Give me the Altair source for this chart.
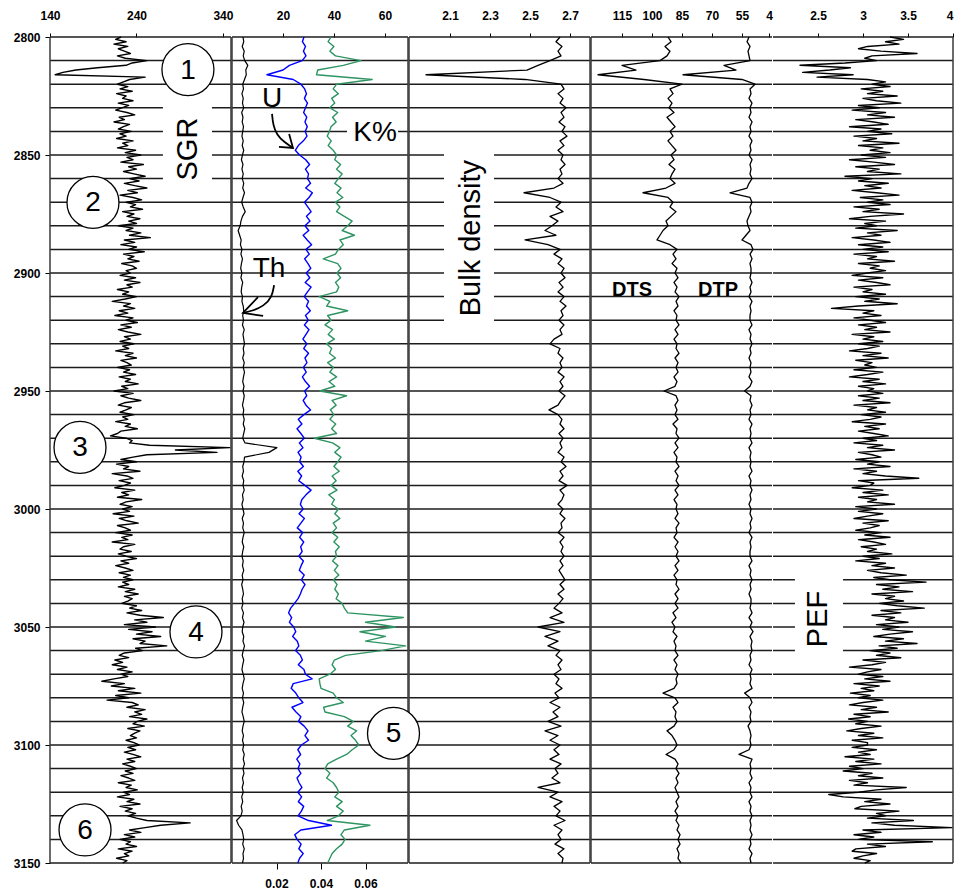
import altair as alt
import pandas as pd

FONT = "Liberation Sans"
H = 826
W1, W2, W3, W4, W5 = 181, 176, 181, 181, 180

# ---------------- depth sampling ----------------
DEPTH_1M = list(range(2800, 3151))
DEPTH_2M = list(range(2800, 3151, 2))
GRID_DEPTHS = list(range(2800, 3151, 10))
DEPTH_TICKS = list(range(2800, 3151, 50))

# ---------------- SGR (1 m) ----------------
SGR = [
    222, 216, 228, 214, 230, 219, 226, 233, 218, 227,
    252, 235, 228, 195, 170, 155, 146, 250, 232, 225,
    218, 230, 221, 235, 217, 228, 224, 236, 219, 231,
    223, 216, 229, 238, 220, 226, 214, 232, 225, 219,
    234, 221, 228, 217, 236, 224, 230, 218, 239, 227,
    245, 229, 236, 222, 248, 231, 240, 225, 237, 250,
    232, 243, 226, 238, 252, 230, 241, 221, 236, 246,
    228, 239, 233, 247, 224, 237, 229, 244, 231, 240,
    219, 236, 228, 245, 232, 256, 226, 238, 222, 240,
    231, 249, 225, 237, 230, 243, 223, 235, 240, 228,
    233, 221, 239, 226, 244, 229, 235, 218, 231, 224,
    240, 227, 212, 233, 225, 238, 220, 230, 215, 236,
    228, 241, 222, 234, 219, 230, 245, 226, 233, 221,
    237, 224, 231, 216, 236, 227, 240, 222, 229, 234,
    218, 232, 225, 239, 220, 233, 227, 242, 223, 230,
    214, 236, 222, 231, 245, 226, 219, 234, 228, 221,
    237, 224, 230, 216, 233, 227, 241, 222, 218, 210,
    228, 235, 232, 255, 348, 285, 333, 252, 236, 222,
    240, 217, 231, 225, 244, 212, 229, 236, 220, 233,
    226, 215, 238, 223, 231, 218, 246, 228, 221, 235,
    224, 232, 213, 237, 220, 229, 242, 218, 227, 233,
    216, 235, 223, 230, 212, 238, 225, 221, 234, 219,
    228, 240, 222, 231, 216, 227, 236, 220, 233, 225,
    236, 224, 231, 219, 238, 227, 242, 226, 235, 230,
    223, 240, 232, 246, 229, 244, 271, 238, 252, 226,
    262, 231, 258, 240, 268, 236, 250, 244, 275, 239,
    247, 226, 220, 231, 215, 224, 212, 229, 218, 235,
    222, 230, 214, 200, 226, 211, 238, 219, 245, 216,
    231, 206, 235, 242, 229, 250, 238, 246, 232, 252,
    241, 236, 249, 230, 244, 238, 233, 240, 228, 237,
    243, 230, 239, 226, 236, 245, 229, 238, 224, 233,
    240, 227, 236, 222, 231, 238, 219, 234, 228, 241,
    225, 232, 218, 237, 229, 244, 221, 235, 227, 239,
    230, 240, 252, 302, 268, 250, 232, 245, 226, 238,
    221, 233, 228, 240, 219, 235, 226, 231, 217, 229,
    224,
]

# ---------------- PEF (1 m) ----------------
PEF = [
    3.30, 3.45, 3.25, 3.40, 3.05, 2.95, 3.20, 3.60, 3.10, 3.02,
    3.15, 2.80, 2.30, 2.86, 2.63, 2.33, 2.89, 2.49, 3.05, 3.25,
    3.10, 3.30, 2.98, 3.22, 3.05, 3.38, 3.00, 3.15, 3.42, 2.95,
    3.18, 2.88, 3.25, 3.05, 3.35, 2.92, 3.12, 3.28, 2.85, 3.20,
    3.05, 3.32, 2.90, 3.15, 3.00, 3.40, 2.95, 3.22, 3.08, 3.30,
    2.98, 3.25, 2.85, 3.12, 3.35, 2.92, 3.18, 3.05, 3.42, 2.80,
    3.10, 2.95, 3.28, 3.02, 3.20, 2.88, 3.15, 3.40, 2.97, 3.22,
    3.05, 3.30, 2.90, 3.18, 3.00, 3.45, 3.08, 2.85, 3.25, 3.02,
    3.15, 2.92, 3.38, 3.05, 3.20, 2.88, 3.12, 3.30, 2.95, 3.22,
    3.00, 3.28, 2.90, 3.15, 3.05, 3.35, 2.95, 3.18, 3.08, 3.25,
    3.05, 2.88, 3.22, 2.95, 3.15, 3.30, 2.90, 3.10, 3.00, 3.25,
    2.92, 3.18, 3.02, 3.38, 2.95, 2.65, 3.12, 3.00, 3.20, 2.90,
    3.08, 3.25, 2.95, 3.15, 3.02, 3.30, 2.88, 3.12, 3.00, 3.22,
    2.95, 3.18, 3.05, 2.85, 3.20, 3.00, 3.28, 2.92, 3.10, 3.02,
    3.15, 2.90, 3.22, 3.05, 2.85, 3.18, 3.00, 3.25, 2.95, 3.12,
    3.05, 3.22, 2.95, 3.18, 3.00, 3.30, 2.90, 3.15, 3.05, 3.25,
    2.98, 3.20, 3.08, 2.88, 3.25, 3.02, 3.18, 2.95, 3.12, 3.28,
    3.00, 3.15, 2.90, 3.22, 3.05, 3.35, 2.95, 3.10, 3.20, 2.92,
    3.18, 3.05, 3.30, 2.90, 3.15, 3.00, 3.25, 3.62, 2.95, 3.12,
    3.08, 2.88, 3.22, 3.00, 3.28, 2.95, 3.15, 3.05, 3.35, 2.92,
    3.15, 2.95, 3.22, 3.05, 2.90, 3.28, 3.00, 3.18, 3.08, 2.92,
    3.20, 3.02, 3.30, 2.95, 3.12, 3.25, 2.98, 3.15, 3.05, 3.32,
    3.00, 3.18, 2.92, 3.25, 3.10, 3.35, 3.05, 3.20, 3.48, 3.12,
    3.30, 3.70, 3.15, 3.40, 3.22, 3.55, 3.10, 3.35, 3.25, 3.45,
    3.18, 3.38, 3.68, 3.20, 3.42, 3.10, 3.35, 3.25, 3.50, 3.15,
    3.40, 3.22, 3.55, 3.30, 3.12, 3.45, 3.25, 3.60, 3.18, 3.38,
    3.08, 3.30, 3.15, 3.42, 3.00, 3.25, 3.10, 2.85, 3.20, 3.05,
    2.95, 3.22, 3.02, 3.30, 2.90, 3.18, 2.98, 3.12, 2.86, 3.08,
    2.95, 3.22, 3.00, 2.85, 3.15, 2.98, 3.28, 2.90, 3.08, 2.84,
    3.05, 2.92, 3.20, 2.98, 2.82, 3.12, 2.95, 3.22, 2.88, 3.05,
    3.05, 2.88, 3.15, 2.95, 3.08, 2.80, 3.12, 2.92, 3.20, 2.85,
    3.00, 2.78, 3.10, 2.95, 3.22, 2.85, 3.05, 2.90, 3.48, 3.15,
    2.95, 2.62, 2.78, 3.20, 3.02, 3.30, 2.98, 2.91, 3.40, 3.15,
    3.25, 3.05, 3.56, 3.10, 3.35, 3.99, 3.00, 3.20, 2.90, 3.12,
    2.95, 3.77, 3.05, 3.25, 2.92, 2.88, 3.15, 3.00, 2.90, 3.08,
    3.02,
]

# ---------------- 2 m curves ----------------
TH = [
    4.3, 4.6, 4.0, 4.8, 4.4, 5.0, 6.2, 5.4, 5.6, 4.9,
    4.2, 4.5, 3.9, 4.4, 4.1, 4.6, 3.8, 4.3, 4.0, 4.5,
    4.2, 3.9, 4.4, 4.0, 4.6, 4.1, 3.7, 4.3, 3.9, 4.4,
    4.0, 4.6, 4.2, 4.9, 4.3, 3.8, 4.4, 5.2, 4.1, 3.5,
    3.2, 2.4, 3.0, 3.6, 3.3, 3.9, 3.5, 4.1, 3.7, 3.4,
    3.9, 3.5, 4.2, 3.8, 3.6, 4.1, 3.9, 4.4, 4.6, 4.2,
    4.5, 4.1, 4.8, 4.3, 4.6, 4.9, 4.4, 4.7, 4.2, 4.8,
    4.4, 4.9, 4.5, 4.2, 4.7, 4.3, 4.8, 4.5, 4.1, 4.6,
    4.3, 4.8, 4.4, 5.0, 4.6, 4.2, 5.1, 17.6, 14.5, 4.9,
    4.7, 4.2, 4.5, 4.0, 4.6, 4.3, 4.8, 4.1, 4.4, 3.9,
    4.3, 4.7, 4.0, 4.5, 4.2, 4.8, 4.3, 4.0, 4.6, 4.2,
    3.9, 4.4, 4.1, 4.6, 4.0, 4.3, 3.8, 4.2, 4.5, 4.0,
    4.3, 3.8, 4.5, 4.1, 4.7, 4.2, 4.0, 4.6, 4.3, 4.9,
    4.4, 4.0, 4.6, 4.2, 3.9, 4.4, 4.8, 4.3, 4.0, 4.5,
    4.1, 4.6, 4.2, 3.9, 4.4, 4.8, 4.3, 4.0, 4.5, 4.1,
    4.6, 4.2, 4.8, 4.4, 4.9, 4.3, 4.7, 4.1, 4.5, 4.0,
    4.4, 3.8, 4.2, 3.6, 4.0, 3.5, 1.8, 2.6, 3.9, 4.3,
    4.6, 4.2, 4.8, 4.3, 4.5, 4.1,
]

U = [
    28.2, 27.6, 28.8, 28.0, 29.0, 27.5, 22.5, 20.0, 13.7, 24.0,
    27.0, 28.5, 29.2, 28.4, 29.6, 28.8, 28.1, 29.3, 28.6, 29.5,
    28.7, 29.4, 28.0, 26.0, 24.8, 26.5, 28.9, 30.4, 28.8, 30.0,
    29.6, 30.8, 28.9, 31.5, 30.2, 28.4, 29.7, 31.0, 29.2, 30.6,
    28.6, 30.1, 27.9, 29.5, 31.2, 29.0, 30.3, 28.5, 29.8, 30.9,
    29.1, 30.5, 28.7, 31.0, 29.6, 28.3, 30.0, 29.2, 30.7, 28.8,
    29.9, 28.4, 30.2, 29.0, 27.8, 29.3, 28.1, 30.0, 28.6, 29.4,
    28.0, 29.1, 27.6, 28.8, 30.4, 28.5, 29.3, 27.9, 29.0, 30.8,
    28.2, 26.0, 27.4, 25.5, 27.0, 28.3, 26.4, 27.8, 25.9, 27.1,
    26.5, 28.0, 25.8, 27.3, 26.2, 28.6, 31.0, 29.0, 27.4, 26.8,
    27.9, 26.3, 28.4, 27.0, 25.6, 27.7, 26.5, 28.1, 26.9, 27.5,
    26.2, 28.0, 27.1, 26.4, 28.3, 27.2, 28.6, 27.5, 26.8, 25.9,
    24.5, 23.0, 22.2, 23.4, 22.5, 24.2, 25.0, 23.8, 25.6, 26.2,
    24.9, 26.8, 27.6, 26.0, 28.2, 28.8, 31.4, 24.0, 23.2, 25.0,
    26.2, 27.8, 23.5, 25.1, 27.0, 26.1, 28.3, 29.8, 28.6, 30.0,
    27.2, 25.8, 26.9, 25.4, 26.6, 25.9, 27.0, 25.5, 26.3, 27.4,
    25.8, 27.3, 26.0, 28.1, 27.2, 25.9, 30.0, 39.0, 27.0, 24.6,
    25.5, 27.1, 26.2, 27.9, 26.5, 25.8,
]

K = [
    0.0445, 0.0432, 0.0458, 0.0440, 0.0465, 0.0580, 0.0500, 0.0385, 0.0380, 0.0630,
    0.0470, 0.0455, 0.0478, 0.0448, 0.0462, 0.0440, 0.0475, 0.0452, 0.0468, 0.0445,
    0.0438, 0.0428, 0.0446, 0.0432, 0.0455, 0.0470, 0.0462, 0.0488, 0.0470, 0.0495,
    0.0478, 0.0462, 0.0490, 0.0472, 0.0498, 0.0465, 0.0485, 0.0470, 0.0505, 0.0540,
    0.0520, 0.0495, 0.0550, 0.0485, 0.0500, 0.0478, 0.0465, 0.0410, 0.0475, 0.0490,
    0.0472, 0.0488, 0.0465, 0.0480, 0.0470, 0.0392, 0.0440, 0.0425, 0.0520, 0.0430,
    0.0445, 0.0418, 0.0452, 0.0432, 0.0460, 0.0425, 0.0448, 0.0438, 0.0465, 0.0430,
    0.0455, 0.0440, 0.0470, 0.0436, 0.0462, 0.0395, 0.0515, 0.0450, 0.0468, 0.0442,
    0.0458, 0.0440, 0.0466, 0.0448, 0.0470, 0.0370, 0.0452, 0.0485, 0.0462, 0.0490,
    0.0475, 0.0458, 0.0482, 0.0450, 0.0468, 0.0445, 0.0472, 0.0435, 0.0460, 0.0448,
    0.0478, 0.0462, 0.0485, 0.0455, 0.0470, 0.0450, 0.0475, 0.0458, 0.0482, 0.0465,
    0.0470, 0.0452, 0.0476, 0.0460, 0.0480, 0.0456, 0.0472, 0.0462, 0.0478, 0.0468,
    0.0495, 0.0505, 0.0520, 0.0770, 0.0600, 0.0735, 0.0575, 0.0690, 0.0600, 0.0780,
    0.0670, 0.0510, 0.0460, 0.0450, 0.0465, 0.0440, 0.0392, 0.0395, 0.0400, 0.0455,
    0.0470, 0.0500, 0.0412, 0.0418, 0.0505, 0.0545, 0.0520, 0.0560, 0.0535, 0.0555,
    0.0570, 0.0540, 0.0515, 0.0470, 0.0430, 0.0418, 0.0440, 0.0425, 0.0455, 0.0470,
    0.0480, 0.0462, 0.0495, 0.0470, 0.0500, 0.0478, 0.0428, 0.0620, 0.0505, 0.0490,
    0.0508, 0.0495, 0.0470, 0.0450, 0.0440, 0.0430,
]

RHOB = [
    2.650, 2.630, 2.660, 2.640, 2.655, 2.600, 2.540, 2.485, 1.980, 2.475,
    2.655, 2.670, 2.640, 2.665, 2.650, 2.680, 2.655, 2.670, 2.645, 2.675,
    2.660, 2.685, 2.650, 2.670, 2.640, 2.665, 2.655, 2.675, 2.650, 2.660,
    2.640, 2.665, 2.620, 2.470, 2.600, 2.655, 2.630, 2.665, 2.600, 2.640,
    2.610, 2.575, 2.630, 2.475, 2.590, 2.650, 2.620, 2.660, 2.640, 2.670,
    2.655, 2.675, 2.645, 2.665, 2.640, 2.670, 2.650, 2.680, 2.655, 2.665,
    2.645, 2.670, 2.650, 2.660, 2.620, 2.600, 2.650, 2.640, 2.665, 2.650,
    2.660, 2.640, 2.670, 2.650, 2.665, 2.645, 2.675, 2.655, 2.640, 2.595,
    2.640, 2.660, 2.650, 2.670, 2.645, 2.665, 2.650, 2.660, 2.640, 2.670,
    2.655, 2.680, 2.650, 2.665, 2.645, 2.685, 2.650, 2.670, 2.660, 2.640,
    2.665, 2.650, 2.675, 2.655, 2.660, 2.640, 2.670, 2.650, 2.665, 2.655,
    2.670, 2.650, 2.665, 2.645, 2.660, 2.675, 2.650, 2.670, 2.640, 2.665,
    2.645, 2.620, 2.660, 2.600, 2.670, 2.540, 2.650, 2.575, 2.640, 2.590,
    2.650, 2.630, 2.660, 2.640, 2.655, 2.620, 2.645, 2.630, 2.660, 2.625,
    2.645, 2.600, 2.650, 2.615, 2.640, 2.590, 2.655, 2.575, 2.640, 2.600,
    2.650, 2.620, 2.645, 2.600, 2.655, 2.625, 2.640, 2.610, 2.650, 2.540,
    2.640, 2.600, 2.660, 2.620, 2.650, 2.630, 2.675, 2.620, 2.660, 2.640,
    2.655, 2.625, 2.670, 2.640, 2.665, 2.660,
]

DTS = [
    92.0, 90.5, 93.5, 91.0, 92.5, 96.0, 115.0, 108.0, 127.0, 104.0,
    85.0, 91.0, 89.5, 92.0, 90.0, 91.5, 89.0, 92.5, 90.5, 88.5,
    91.0, 89.5, 92.0, 90.0, 88.0, 90.5, 89.0, 91.5, 88.5, 90.0,
    91.0, 88.5, 93.0, 104.5, 92.0, 89.5, 91.0, 88.0, 90.5, 93.0,
    92.0, 94.5, 96.0, 97.5, 91.0, 87.5, 89.5, 88.0, 90.0, 87.5,
    88.5, 87.0, 89.0, 87.5, 88.5, 86.5, 88.0, 87.0, 89.0, 87.5,
    88.0, 86.5, 88.5, 87.0, 89.0, 87.5, 88.0, 86.5, 88.5, 87.0,
    88.0, 87.0, 89.0, 87.5, 88.5, 94.0, 88.0, 87.0, 88.5, 87.5,
    88.5, 87.0, 89.5, 87.5, 88.0, 86.5, 88.5, 87.0, 89.0, 87.5,
    88.0, 86.5, 88.5, 87.0, 88.0, 86.5, 88.5, 87.0, 89.0, 87.5,
    88.0, 87.0, 88.5, 86.5, 88.0, 87.5, 89.0, 87.0, 88.5, 87.0,
    88.0, 86.5, 88.5, 87.0, 89.0, 87.5, 88.0, 86.5, 88.5, 87.0,
    88.5, 87.0, 89.5, 88.0, 90.0, 88.5, 89.5, 87.5, 89.0, 88.0,
    88.5, 87.0, 89.0, 87.5, 88.5, 87.0, 88.0, 87.5, 89.0, 94.5,
    88.5, 87.0, 89.5, 88.0, 88.5, 87.5, 89.0, 92.5, 90.0, 88.5,
    87.5, 89.0, 93.0, 88.5, 87.0, 88.0, 86.5, 88.0, 87.0, 88.5,
    87.5, 86.5, 88.0, 87.0, 88.5, 87.0, 88.0, 86.5, 87.5, 86.0,
    87.0, 86.0, 87.5, 86.5, 87.0, 85.5,
]

DTP = [
    51.5, 52.5, 51.0, 52.0, 51.5, 51.0, 64.0, 58.0, 84.5, 55.0,
    48.5, 51.0, 50.5, 51.5, 50.0, 51.0, 50.5, 51.5, 50.0, 51.0,
    50.5, 51.5, 50.0, 51.0, 50.5, 51.5, 50.0, 51.0, 50.5, 51.0,
    50.0, 51.5, 52.5, 61.0, 51.0, 50.0, 51.0, 50.5, 51.5, 52.5,
    52.0, 51.0, 53.0, 55.0, 50.5, 49.5, 51.0, 50.0, 51.0, 50.5,
    50.5, 51.0, 50.0, 51.0, 50.5, 51.5, 50.0, 51.0, 50.5, 51.0,
    51.0, 50.0, 51.5, 50.5, 51.0, 50.0, 51.0, 50.5, 51.5, 50.5,
    51.0, 50.5, 51.5, 50.0, 51.0, 53.7, 50.5, 51.0, 50.0, 51.0,
    50.5, 51.5, 50.0, 51.0, 50.5, 51.0, 50.0, 51.5, 50.5, 51.0,
    50.5, 51.0, 50.0, 51.5, 50.5, 51.0, 50.0, 51.0, 50.5, 51.5,
    50.5, 51.0, 50.0, 51.0, 50.5, 51.5, 50.0, 51.0, 50.5, 51.0,
    51.0, 50.0, 51.5, 50.5, 51.0, 50.0, 51.0, 50.5, 51.5, 50.5,
    50.5, 51.0, 50.0, 51.5, 50.0, 51.0, 49.5, 51.0, 50.0, 50.5,
    50.0, 51.0, 50.5, 51.5, 50.0, 51.0, 50.5, 51.0, 50.0, 53.7,
    51.0, 50.0, 51.5, 50.5, 51.0, 50.5, 52.0, 51.0, 50.5, 51.0,
    50.5, 51.5, 56.5, 50.0, 51.0, 50.5, 51.0, 50.0, 51.5, 50.5,
    51.0, 50.0, 51.5, 50.5, 51.0, 50.0, 51.0, 50.5, 51.0, 50.0,
    51.0, 50.5, 51.5, 50.0, 51.0, 50.5,
]

# ---------------- track scales (domains) ----------------
SGR_DOM = [140, 349.3]
TOP2_DOM = [0, 69]
K_DOM = [0, 0.0791]
RHOB_DOM = [1.895, 2.8]
DT_DOM = [130.5, 40]
PEF_DOM = [2, 4]

SGR_TICKS = [140, 240, 340]
TOP2_TICKS = [20, 40, 60]
K_TICKS = [0.02, 0.04, 0.06]
RHOB_TICKS = [2.1, 2.3, 2.5, 2.7]
DT_TICKS = [115, 100, 85, 70, 55, 41.5]
PEF_TICKS = [2.5, 3, 3.5, 4]

# ---------------- annotations ----------------
CIRC1_LABEL = ["1", "2", "3", "4", "6"]
CIRC1_X = [299.5, 189.7, 174.7, 308.8, 180.5]
CIRC1_D = [2813.8, 2870.1, 2973.9, 3052.1, 3136.0]
CIRC3_LABEL = ["5"]
CIRC3_X = [1.8175]
CIRC3_D = [3095.1]

T2_TEXT = ["U", "Th", "K%"]
T2_TEXT_X = [15.7, 14.5, 56.1]
T2_TEXT_D = [2826.3, 2898.3, 2840.7]

ARROW_PART = ["u1"] * 5 + ["u2"] * 3 + ["t1"] * 5 + ["t2"] * 3
ARROW_X = [15.7, 16.1, 17.6, 20.4, 23.9, 18.4, 23.9, 22.4,
           16.5, 15.7, 12.5, 7.8, 4.3, 10.2, 4.3, 12.2]
ARROW_D = [2832.6, 2837.3, 2841.5, 2844.5, 2847.0, 2846.6, 2847.0, 2841.1,
           2905.1, 2910.2, 2914.0, 2916.1, 2916.9, 2910.2, 2916.9, 2918.2]

# ---------------- frames ----------------
df1 = pd.DataFrame({"depth": DEPTH_1M, "sgr": SGR, "pef": PEF})
df2 = pd.DataFrame({"depth": DEPTH_2M, "th": TH, "u": U, "k": K,
                    "rhob": RHOB, "dts": DTS, "dtp": DTP})
grid_df = pd.DataFrame({"depth": GRID_DEPTHS})
one = pd.DataFrame({"a": [0]})

YS = alt.Scale(domain=[2800, 3150], reverse=True, nice=False, zero=False)


def xs(dom):
    return alt.Scale(domain=dom, nice=False, zero=False)


def lab_axis(orient, values, fmt, tick=4, pad=11, flush=False, expr=None):
    kw = dict(orient=orient, values=values, format=fmt, tickSize=tick,
              labelPadding=pad, title=None, domain=False, grid=False,
              labelFlush=flush, labelOverlap=False, labelFont=FONT,
              labelFontWeight="bold", labelFontSize=12, labelColor="black",
              tickColor="black", tickWidth=1)
    if expr:
        kw["labelExpr"] = expr
    return alt.Axis(**kw)


def track(xaxis, yaxis=None, dom=None):
    xsc = xs(dom) if dom is not None else None

    def X(field):
        return alt.X(f"{field}:Q", scale=xsc, axis=xaxis)

    def Y(field):
        return alt.Y(f"{field}:Q", scale=YS, axis=yaxis)

    return X, Y


def grid(Y):
    return alt.Chart(grid_df).mark_rule(color="#1c1c1c", strokeWidth=1.5).encode(
        y=Y("depth"))


def border(px):
    return alt.Chart(one).mark_rule(color="#3a3a3a", strokeWidth=1.5).encode(
        x=alt.value(px), y=alt.value(0), y2=alt.value(H))


def curve(df, field, color, X, Y, width=1.2):
    return alt.Chart(df).mark_line(color=color, strokeWidth=width,
                                   strokeJoin="round").encode(
        x=X(field), y=Y("depth"), order="depth:Q")


def box(x0, x1, d0, d1, X, Y):
    df = pd.DataFrame({"x0": [x0], "x1": [x1], "d0": [d0], "d1": [d1]})
    return alt.Chart(df).mark_rect(color="white").encode(
        x=X("x0"), x2="x1:Q", y=Y("d0"), y2="d1:Q")


def circles(labels, xv, dv, X, Y):
    df = pd.DataFrame({"x": xv, "d": dv, "t": labels})
    c = alt.Chart(df).mark_circle(size=2704, fill="white", stroke="black",
                                  strokeWidth=1.3, opacity=1).encode(
        x=X("x"), y=Y("d"))
    t = alt.Chart(df).mark_text(font=FONT, fontSize=28, color="black",
                                baseline="middle", align="center", dy=1).encode(
        x=X("x"), y=Y("d"), text="t:N")
    return [c, t]


def label(texts, xv, dv, X, Y, size=28, angle=0, weight="normal"):
    df = pd.DataFrame({"x": xv, "d": dv, "t": texts})
    return alt.Chart(df).mark_text(font=FONT, fontSize=size, color="black",
                                   baseline="middle", align="center",
                                   angle=angle, fontWeight=weight).encode(
        x=X("x"), y=Y("d"), text="t:N")


# ---------------- Track 1 : SGR ----------------
X1, Y1 = track(lab_axis("top", SGR_TICKS, "d"),
               lab_axis("left", DEPTH_TICKS, "d", tick=5, pad=5), SGR_DOM)
t1 = alt.layer(
    grid(Y1),
    box(270.6, 327.3, 2822.9, 2865.3, X1, Y1),
    curve(df1, "sgr", "black", X1, Y1, width=1.4),
    border(0), border(W1),
    *circles(CIRC1_LABEL, CIRC1_X, CIRC1_D, X1, Y1),
    label(["SGR"], [299.5], [2847.5], X1, Y1, size=29, angle=270),
).properties(width=W1, height=H)

# ---------------- Track 2 : Th / U / K ----------------
X2, Y2 = track(lab_axis("top", TOP2_TICKS, "d"), None, TOP2_DOM)
XK, _ = track(lab_axis("bottom", K_TICKS, ".2f", tick=6, pad=9), None, K_DOM)

arrow_df = pd.DataFrame({"x": ARROW_X, "d": ARROW_D, "part": ARROW_PART,
                         "o": list(range(len(ARROW_X)))})
shafts = alt.Chart(arrow_df).transform_filter(
    alt.FieldOneOfPredicate(field="part", oneOf=["u1", "t1"])
).mark_line(color="black", strokeWidth=1.8, interpolate="basis").encode(
    x=X2("x"), y=Y2("d"), detail="part:N", order="o:Q")
heads = alt.Chart(arrow_df).transform_filter(
    alt.FieldOneOfPredicate(field="part", oneOf=["u2", "t2"])
).mark_line(color="black", strokeWidth=1.8).encode(
    x=X2("x"), y=Y2("d"), detail="part:N", order="o:Q")

groupA = alt.layer(
    box(45.1, 65.1, 2835.5, 2845.5, X2, Y2),
    curve(df2, "th", "black", X2, Y2),
    curve(df2, "u", "#0000ff", X2, Y2, width=1.4),
    label(T2_TEXT, T2_TEXT_X, T2_TEXT_D, X2, Y2, size=28),
    shafts, heads,
)
groupB = curve(df2, "k", "#2e9462", XK, Y2, width=1.4)
t2 = alt.layer(grid(Y2), groupA, groupB, border(0), border(W2)).resolve_scale(
    x="independent").resolve_axis(x="independent").properties(width=W2, height=H)

# ---------------- Track 3 : Bulk density ----------------
X3, Y3 = track(lab_axis("top", RHOB_TICKS, ".1f"), None, RHOB_DOM)
t3 = alt.layer(
    grid(Y3),
    box(2.07, 2.32, 2848.3, 2922.5, X3, Y3),
    curve(df2, "rhob", "black", X3, Y3, width=1.3),
    border(0), border(W3),
    label(["Bulk density"], [2.205], [2885.2], X3, Y3, size=29, angle=270),
    *circles(CIRC3_LABEL, CIRC3_X, CIRC3_D, X3, Y3),
).properties(width=W3, height=H)

# ---------------- Track 4 : DTS / DTP ----------------
X4, Y4 = track(lab_axis("top", DT_TICKS, "d",
                        expr="datum.value == 41.5 ? '4' : datum.label"),
               None, DT_DOM)
t4 = alt.layer(
    grid(Y4),
    curve(df2, "dts", "black", X4, Y4, width=1.3),
    curve(df2, "dtp", "black", X4, Y4, width=1.3),
    border(0),
    label(["DTS", "DTP"], [110, 67], [2907.2, 2907.2], X4, Y4, size=20,
          weight="bold"),
).properties(width=W4, height=H)

# ---------------- Track 5 : PEF ----------------
X5, Y5 = track(lab_axis("top", PEF_TICKS, "~g", flush=True), None, PEF_DOM)
t5 = alt.layer(
    grid(Y5),
    box(2.244, 2.778, 3026.3, 3066.5, X5, Y5),
    curve(df1, "pef", "black", X5, Y5, width=1.4),
    border(W5),
    label(["PEF"], [2.5], [3046.6], X5, Y5, size=29, angle=270),
).properties(width=W5, height=H)

chart = alt.hconcat(t1, t2, t3, t4, t5, spacing=1, bounds="flush").properties(
    padding={"left": 13, "top": 9, "right": 0, "bottom": 0},
    background="white",
).configure_view(stroke=None)

chart.save("out.html", embed_options={"renderer": "svg", "actions": False})
